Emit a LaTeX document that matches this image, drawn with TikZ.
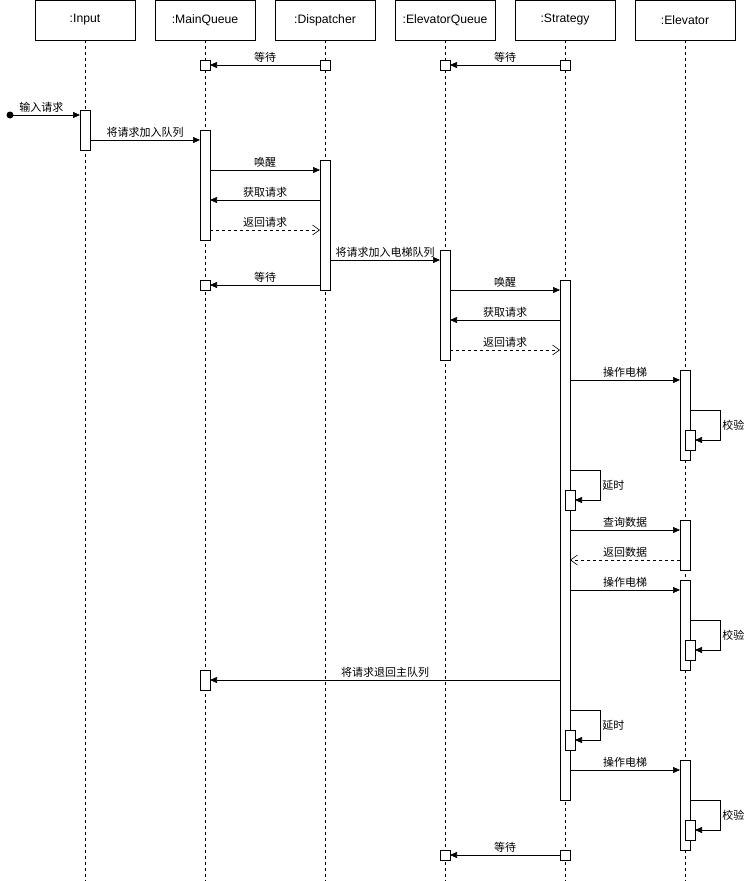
\documentclass[tikz,border=0pt]{standalone}
\usepackage{fontspec}
\setmainfont{Liberation Sans}
\newfontfamily\cjk{Noto Sans CJK SC}
\usetikzlibrary{arrows.meta}
\begin{document}
\begin{tikzpicture}[x=1pt,y=-1pt,
  head/.style={draw,minimum width=100pt,minimum height=40pt,inner sep=0pt,font=\fontsize{12.2}{14}\selectfont},
  act/.style={draw,fill=white,minimum width=10pt,inner sep=0pt},
  life/.style={dashed,dash pattern=on 3pt off 3pt,line width=0.5pt},
  msg/.style={-{Triangle[length=7pt,width=6pt]},line width=0.6pt},
  ret/.style={dash pattern=on 3pt off 3pt,-{Straight Barb[length=7pt,width=10pt]},line width=0.6pt},
  lab/.style={font=\cjk\fontsize{11}{12}\selectfont,inner sep=1pt,fill=none}]
\useasboundingbox (0,0) rectangle (747,881);
\foreach \n/\x/\t in {in/85/:Input,mq/205/:MainQueue,di/325/:Dispatcher,eq/445/:ElevatorQueue,st/565/:Strategy,el/685/:Elevator}{
  \node[head] (h\n) at (\x,20) {\t};
  \coordinate (e\n) at (\x,881);
  \draw[life] (h\n.south) -- (e\n);
}
% activations
\newcommand{\actbox}[4]{\node[act,minimum height=#4-#3] (#1) at (#2,{(#3+#4)/2}) {};}
\actbox{aIn}{85}{110}{150}
\actbox{aMq1}{205}{60}{70}
\actbox{aMq2}{205}{130}{240}
\actbox{aMq3}{205}{280}{290}
\actbox{aMq4}{205}{670}{690}
\actbox{aDi0}{325}{60}{70}
\actbox{aDi}{325}{160}{290}
\actbox{aEq0}{445}{60}{70}
\actbox{aEq}{445}{250}{360}
\actbox{aEq2}{445}{850}{860}
\actbox{aSt0}{565}{60}{70}
\actbox{aSt}{565}{280}{800}
\actbox{aSt1}{570}{490}{510}
\actbox{aSt2}{570}{730}{750}
\actbox{aSt3}{565}{850}{860}
\actbox{aEl1}{685}{370}{460}
\actbox{aEl2}{685}{520}{570}
\actbox{aEl3}{685}{580}{670}
\actbox{aEl4}{685}{760}{850}
\actbox{sEl1}{690}{430}{450}
\actbox{sEl3}{690}{640}{660}
\actbox{sEl4}{690}{820}{840}
% messages
\newcommand{\msgline}[6]{\coordinate (#1a) at (#2,#4); \coordinate (#1b) at (#3,#4);
  \draw[#5] (#1a) -- node[lab,above=1.5pt] {#6} (#1b);}
\msgline{m1}{320}{210}{65}{msg}{等待}
\msgline{m2}{560}{450}{65}{msg}{等待}
\fill (10,115) circle (3.5pt);
\coordinate (m3a) at (10,115); \coordinate (m3b) at (80,115);
\draw[msg] (m3a) -- (m3b) node[lab,above=1.5pt,pos=0.45] {输入请求};
\msgline{m4}{90}{200}{140}{msg}{将请求加入队列}
\msgline{m5}{210}{320}{170}{msg}{唤醒}
\msgline{m6}{320}{210}{200}{msg}{获取请求}
\msgline{m7}{210}{320}{230}{ret}{返回请求}
\msgline{m8}{330}{440}{260}{msg}{将请求加入电梯队列}
\msgline{m9}{320}{210}{285}{msg}{等待}
\msgline{m10}{450}{560}{290}{msg}{唤醒}
\msgline{m11}{560}{450}{320}{msg}{获取请求}
\msgline{m12}{450}{560}{350}{ret}{返回请求}
\msgline{m13}{570}{680}{380}{msg}{操作电梯}
\msgline{m14}{570}{680}{530}{msg}{查询数据}
\msgline{m15}{680}{570}{560}{ret}{返回数据}
\msgline{m16}{570}{680}{590}{msg}{操作电梯}
\msgline{m17}{560}{210}{680}{msg}{将请求退回主队列}
\msgline{m18}{570}{680}{770}{msg}{操作电梯}
\msgline{m19}{560}{450}{855}{msg}{等待}
% self loops
\newcommand{\selfloop}[5]{\draw[msg] (#1,#3) -- (#2,#3) -- node[lab,right=1pt] {#5} (#2,#4) -- (#1+5,#4);}
\selfloop{570}{600}{470}{500}{延时}
\selfloop{570}{600}{710}{740}{延时}
\selfloop{690}{720}{410}{440}{校验}
\selfloop{690}{720}{620}{650}{校验}
\selfloop{690}{720}{800}{830}{校验}
\end{tikzpicture}
\end{document}
